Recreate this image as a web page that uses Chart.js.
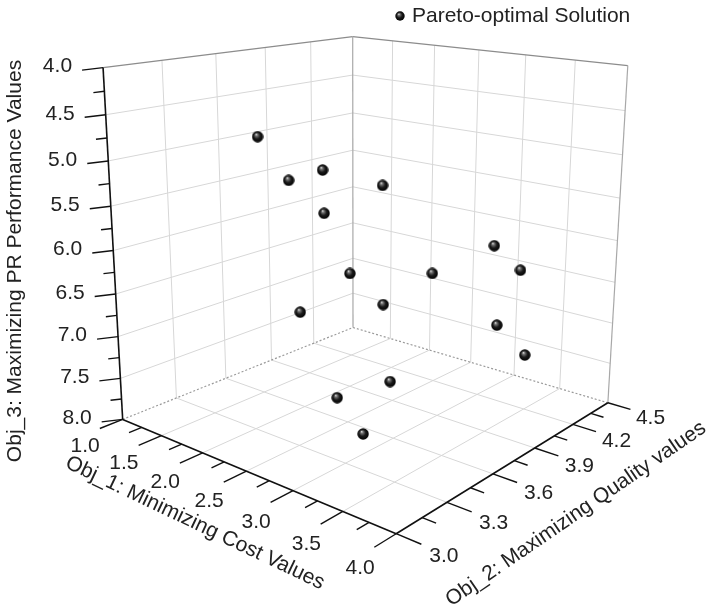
<!DOCTYPE html>
<html>
<head>
<meta charset="utf-8">
<script src="https://cdn.jsdelivr.net/npm/chart.js@4.4.1/dist/chart.umd.min.js"></script>
<style>
  html, body { margin: 0; padding: 0; background: #fff; }
  canvas { display: block; }
</style>
</head>
<body>
<canvas id="chart" width="708" height="615"></canvas>
<script>
// Pareto-optimal solutions (Obj_1 cost, Obj_2 quality, Obj_3 PR performance)
const costValues    = [1.69, 1.73, 1.63, 2.30, 1.69, 2.13, 2.03, 3.42, 3.76, 3.42, 2.34, 3.35, 3.49, 3.01, 3.08, 2.54];
const qualityValues = [3.50, 3.66, 3.93, 3.57, 4.08, 3.51, 4.11, 3.99, 3.93, 3.57, 3.93, 4.08, 4.20, 3.57, 3.36, 3.51];
const prValues      = [4.81, 5.37, 5.39, 5.58, 6.76, 6.73, 5.58, 5.91, 6.06, 5.96, 6.87, 6.92, 7.33, 7.30, 7.69, 7.61];

const costTicks    = [1.0, 1.5, 2.0, 2.5, 3.0, 3.5, 4.0];
const qualityTicks = [3.0, 3.3, 3.6, 3.9, 4.2, 4.5];
const prTicks      = [4.0, 4.5, 5.0, 5.5, 6.0, 6.5, 7.0, 7.5, 8.0];

const seriesLabel  = 'Pareto-optimal Solution';
const costTitle    = 'Obj_1: Minimizing Cost Values';
const qualityTitle = 'Obj_2: Maximizing Quality values';
const prTitle      = 'Obj_3: Maximizing PR Performance Values';

const FONT = "21px 'Liberation Sans', Arial, Helvetica, sans-serif";
const TEXT_COLOR = '#222';

// perspective camera for the 3d box (unit cube -> plane coords)
const view = {
  a: 210.07, b: 311.71, k: -27.55, c: 118,
  d: 23.41, e: -22.72, n: -364.77, f: 422,
  g: -0.17363, h: 0.21732, m: -0.077
};

function project(cost, quality, pr) {
  const u = (cost - 1) / 3;
  const v = (quality - 3) / 1.5;
  const w = (8 - pr) / 4;
  const den = view.g * u + view.h * v + view.m * w + 1;
  return {
    x: (view.a * u + view.b * v + view.k * w + view.c) / den,
    y: (view.d * u + view.e * v + view.n * w + view.f) / den
  };
}

function minorTicks(ticks) {
  const out = [];
  for (let i = 0; i < ticks.length - 1; i++) out.push((ticks[i] + ticks[i + 1]) / 2);
  return out;
}

// little shaded ball used as the point style
function makeSphere(size) {
  const cv = document.createElement('canvas');
  cv.width = size; cv.height = size;
  const c = cv.getContext('2d');
  const r = size / 2;
  const grad = c.createRadialGradient(r * 0.75, r * 0.6, 0, r, r, r);
  grad.addColorStop(0, '#f4f4f4');
  grad.addColorStop(0.2, '#777');
  grad.addColorStop(0.55, '#1a1a1a');
  grad.addColorStop(1, '#000');
  c.fillStyle = grad;
  c.beginPath();
  c.arc(r, r, r - 0.3, 0, Math.PI * 2);
  c.fill();
  return cv;
}
const sphere = makeSphere(12);
const legendSphere = makeSphere(10);

const box3d = {
  id: 'box3d',
  beforeDatasetsDraw(chart) {
    const ctx = chart.ctx;
    const sx = chart.scales.x, sy = chart.scales.y;
    const P = (c, q, p) => {
      const pt = project(c, q, p);
      return { x: sx.getPixelForValue(pt.x), y: sy.getPixelForValue(pt.y) };
    };
    const line = (p1, p2) => {
      ctx.beginPath();
      ctx.moveTo(p1.x, p1.y);
      ctx.lineTo(p2.x, p2.y);
      ctx.stroke();
    };
    const cMin = costTicks[0], cMax = costTicks[costTicks.length - 1];
    const qMin = qualityTicks[0], qMax = qualityTicks[qualityTicks.length - 1];
    const pTop = prTicks[0], pBot = prTicks[prTicks.length - 1];

    ctx.save();
    ctx.lineCap = 'butt';

    // grid lines on floor and the two back walls
    ctx.strokeStyle = '#d7d7d7';
    ctx.lineWidth = 1;
    costTicks.slice(1, -1).forEach(c => {
      line(P(c, qMin, pBot), P(c, qMax, pBot));
      line(P(c, qMax, pBot), P(c, qMax, pTop));
    });
    qualityTicks.slice(1, -1).forEach(q => {
      line(P(cMin, q, pBot), P(cMax, q, pBot));
      line(P(cMin, q, pBot), P(cMin, q, pTop));
    });
    prTicks.slice(1, -1).forEach(p => {
      line(P(cMin, qMin, p), P(cMin, qMax, p));
      line(P(cMin, qMax, p), P(cMax, qMax, p));
    });

    // box edges
    ctx.strokeStyle = '#8c8c8c';
    ctx.lineWidth = 1.2;
    line(P(cMin, qMin, pTop), P(cMin, qMax, pTop));
    line(P(cMin, qMax, pTop), P(cMax, qMax, pTop));
    ctx.strokeStyle = '#a8a8a8';
    line(P(cMin, qMax, pBot), P(cMin, qMax, pTop));
    line(P(cMax, qMax, pBot), P(cMax, qMax, pTop));
    ctx.setLineDash([2, 2]);
    ctx.strokeStyle = '#9a9a9a';
    line(P(cMin, qMin, pBot), P(cMin, qMax, pBot));
    line(P(cMin, qMax, pBot), P(cMax, qMax, pBot));
    ctx.setLineDash([]);

    // axes
    ctx.strokeStyle = '#111';
    ctx.lineWidth = 1.6;
    line(P(cMin, qMin, pBot), P(cMin, qMin, pTop));
    line(P(cMin, qMin, pBot), P(cMax, qMin, pBot));
    line(P(cMax, qMin, pBot), P(cMax, qMax, pBot));

    // ticks
    ctx.lineWidth = 1.4;
    const qSpan = qMax - qMin, cSpan = cMax - cMin;
    costTicks.forEach(c => line(P(c, qMin, pBot), P(c, qMin - 0.08 * qSpan, pBot)));
    minorTicks(costTicks).forEach(c => line(P(c, qMin, pBot), P(c, qMin - 0.045 * qSpan, pBot)));
    qualityTicks.forEach(q => line(P(cMax, q, pBot), P(cMax + 0.075 * cSpan, q, pBot)));
    minorTicks(qualityTicks).forEach(q => line(P(cMax, q, pBot), P(cMax + 0.042 * cSpan, q, pBot)));
    prTicks.forEach(p => {
      const s = P(cMin, qMin, p);
      line(s, { x: s.x - 21, y: s.y + 2.5 });
    });
    minorTicks(prTicks).forEach(p => {
      const s = P(cMin, qMin, p);
      line(s, { x: s.x - 11, y: s.y + 1.3 });
    });

    // tick labels
    ctx.font = FONT;
    ctx.fillStyle = TEXT_COLOR;
    ctx.textAlign = 'center';
    ctx.textBaseline = 'middle';
    costTicks.forEach(c => {
      const s = P(c, qMin - 0.13 * qSpan, pBot);
      ctx.fillText(c.toFixed(1), s.x, s.y + 12);
    });
    qualityTicks.forEach(q => {
      const s = P(cMax + 0.14 * cSpan, q, pBot);
      ctx.fillText(q.toFixed(1), s.x, s.y + 3);
    });
    ctx.textAlign = 'right';
    prTicks.forEach(p => {
      const s = P(cMin, qMin, p);
      ctx.fillText(p.toFixed(1), s.x - 31, s.y - 1);
    });

    // axis titles
    const rotText = (txt, x, y, ang) => {
      ctx.save();
      ctx.translate(x, y);
      ctx.rotate(ang);
      ctx.textAlign = 'center';
      ctx.textBaseline = 'middle';
      ctx.fillText(txt, 0, 0);
      ctx.restore();
    };
    rotText(costTitle, 195, 523, 25.5 * Math.PI / 180);
    rotText(qualityTitle, 576, 514, -34.5 * Math.PI / 180);
    rotText(prTitle, 15, 261, -Math.PI / 2);

    // legend
    ctx.drawImage(legendSphere, 395, 11);
    ctx.textAlign = 'left';
    ctx.fillText(seriesLabel, 412, 16);

    ctx.restore();
  }
};

const points = costValues.map((c, i) => project(c, qualityValues[i], prValues[i]));

new Chart(document.getElementById('chart').getContext('2d'), {
  type: 'scatter',
  data: {
    datasets: [{
      label: seriesLabel,
      data: points,
      pointStyle: sphere,
      pointRadius: 6,
      pointHoverRadius: 6,
      clip: false
    }]
  },
  options: {
    responsive: false,
    animation: false,
    layout: { padding: 0 },
    scales: {
      x: { type: 'linear', min: 0, max: 708, display: false },
      y: { type: 'linear', min: 0, max: 615, reverse: true, display: false }
    },
    plugins: {
      legend: { display: false },
      tooltip: { enabled: false }
    }
  },
  plugins: [box3d]
});
</script>
</body>
</html>
